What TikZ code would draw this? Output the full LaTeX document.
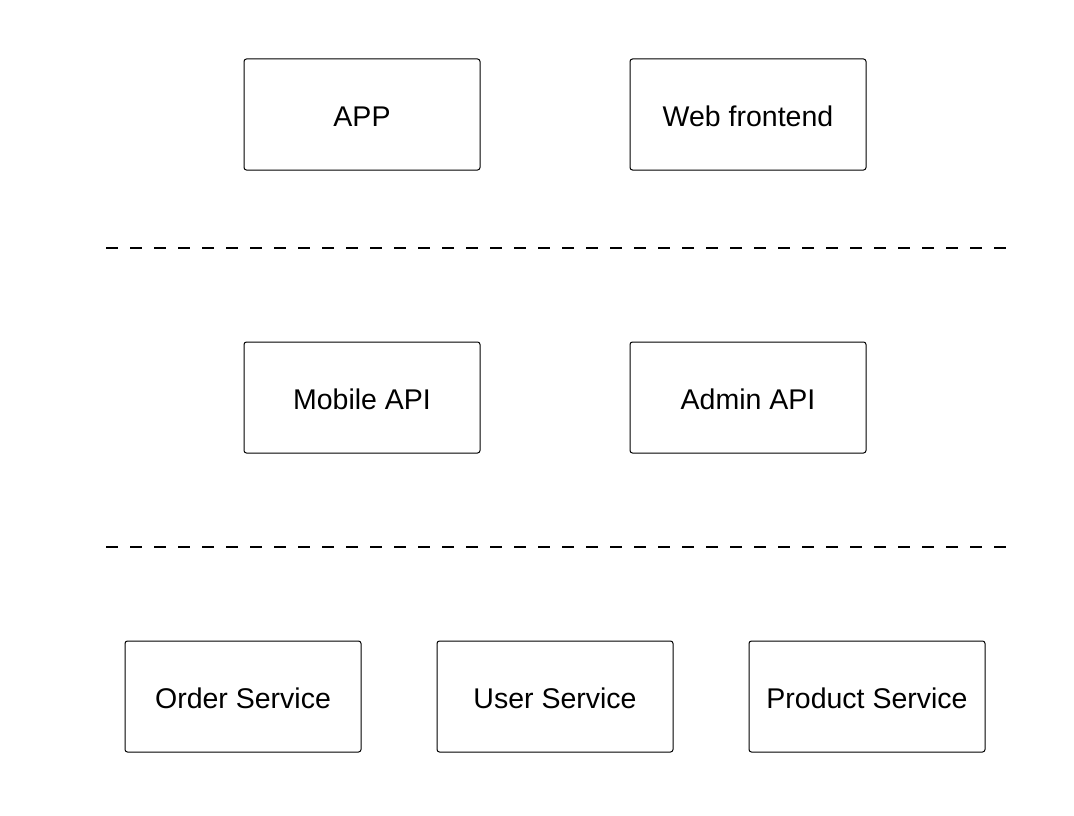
\documentclass[tikz,border=0pt]{standalone}
\usepackage{fontspec}
\setmainfont{Liberation Sans}
\begin{document}
\begin{tikzpicture}[x=1pt,y=-1pt,
  box/.style={draw=black, line width=1pt, rounded corners=2.5pt, minimum width=236pt, minimum height=111pt, inner sep=0pt, text height=23.4pt, text depth=0pt, font=\fontsize{28.5}{33}\selectfont},
  sep/.style={draw=black, line width=2pt, dash pattern=on 12pt off 12pt}]
\useasboundingbox[fill=white] (0,0) rectangle (1074,816);
\node[box] (app) at (362,114.5) {APP};
\node[box] (web) at (748,114.5) {Web frontend};
\node[box] (mob) at (362,397.5) {Mobile API};
\node[box] (adm) at (748,397.5) {Admin API};
\node[box] (ord) at (243,696.5) {Order Service};
\node[box] (usr) at (555,696.5) {User Service};
\node[box] (prd) at (867,696.5) {Product Service};
\coordinate (s1a) at (106,248);
\coordinate (s1b) at (1006,248);
\coordinate (s2a) at (106,547);
\coordinate (s2b) at (1006,547);
\draw[sep] (s1a) -- (s1b);
\draw[sep] (s2a) -- (s2b);
\end{tikzpicture}
\end{document}
